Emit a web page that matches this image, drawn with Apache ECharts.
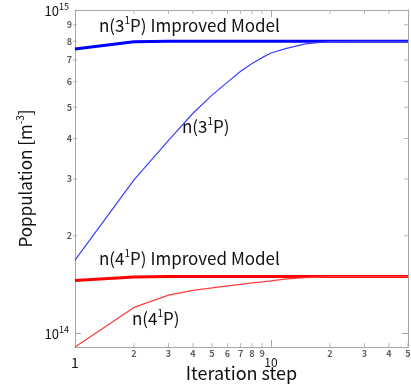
<!DOCTYPE html>
<html>
<head>
<meta charset="utf-8">
<script src="https://cdn.jsdelivr.net/npm/echarts@6/dist/echarts.min.js"></script>
<style>
  html, body { margin: 0; padding: 0; background: #fff; }
  #chart { width: 411px; height: 387px; }
</style>
</head>
<body>
<div id="chart"></div>
<script>
// iteration steps (x) and populations [m^-3]
const steps = [1, 2, 3, 4, 5, 6, 7, 8, 9, 10, 12, 15, 20, 30, 40, 50];
const n3Improved = [7.57e14, 7.98e14, 8.0e14, 8.0e14, 8.0e14, 8.0e14, 8.0e14, 8.0e14, 8.0e14, 8.0e14, 8.0e14, 8.0e14, 8.0e14, 8.0e14, 8.0e14, 8.0e14];
const n3 = [1.68e14, 2.98e14, 3.95e14, 4.79e14, 5.45e14, 5.98e14, 6.46e14, 6.83e14, 7.12e14, 7.36e14, 7.61e14, 7.85e14, 7.99e14, 8.0e14, 8.0e14, 8.0e14];
const n4Improved = [1.455e14, 1.49e14, 1.495e14, 1.495e14, 1.495e14, 1.495e14, 1.495e14, 1.495e14, 1.495e14, 1.495e14, 1.495e14, 1.495e14, 1.495e14, 1.495e14, 1.495e14, 1.495e14];
const n4 = [9.05e13, 1.20e14, 1.31e14, 1.355e14, 1.38e14, 1.40e14, 1.415e14, 1.43e14, 1.44e14, 1.45e14, 1.47e14, 1.485e14, 1.495e14, 1.495e14, 1.495e14, 1.495e14];

// axes
const xMin = 1, xMax = 50;
const yMin = 9.05e13, yMax = 1e15;
const xMinorTicks = [2, 3, 4, 5, 6, 7, 8, 9, 20, 30, 40, 50];
const xMinorLabels = ['2', '3', '4', '5', '6', '7', '8', '9', '2', '3', '4', '5'];
const yMinorTicks = [2e14, 3e14, 4e14, 5e14, 6e14, 7e14, 8e14, 9e14];
const yMinorLabels = ['2', '3', '4', '5', '6', '7', '8', '9'];

const FONT = '"Noto Sans CJK JP", "DejaVu Sans", sans-serif';
const AXIS_GRAY = '#a6a6a6';

const chart = echarts.init(document.getElementById('chart'));

const isPow10 = v => Math.abs(Math.log10(v) - Math.round(Math.log10(v))) < 1e-6;

function pairs(ys) {
  return steps.map((s, i) => [s, ys[i]]);
}

function tickSeries(points, size, offset, label) {
  return {
    type: 'scatter',
    silent: true,
    clip: false,
    symbol: 'rect',
    symbolSize: size,
    symbolOffset: offset,
    itemStyle: { color: AXIS_GRAY },
    label: label || { show: false },
    data: points,
    z: 1
  };
}

// rich styles for "n(3^1P)" style annotations
const annRich = {
  a: { fontSize: 17, fill: '#111', fontFamily: FONT, lineHeight: 21 },
  s: { fontSize: 10, fill: '#111', fontFamily: FONT, lineHeight: 10, verticalAlign: 'top' }
};

const lineBase = { type: 'line', symbol: 'none', silent: true, z: 3 };

const option = {
  backgroundColor: '#fff',
  animation: false,
  textStyle: { fontFamily: FONT },
  grid: { left: 75, right: 3, top: 10, bottom: 40, containLabel: false, outerBoundsMode: 'none' },
  xAxis: [
    {
      type: 'log', min: xMin, max: xMax, position: 'bottom',
      name: 'Iteration step', nameLocation: 'middle', nameGap: 17, nameMoveOverlap: false,
      nameTextStyle: { fontSize: 18, color: '#111', fontFamily: FONT },
      axisLine: { lineStyle: { color: AXIS_GRAY, width: 1 } },
      axisTick: { inside: true, length: 7, lineStyle: { color: AXIS_GRAY } },
      splitLine: { show: false },
      axisLabel: {
        margin: 9,
        formatter: v => (Math.abs(v - 1) < 1e-9 ? '{one|1}' : (isPow10(v) ? '{ten|10}' : '')),
        rich: {
          one: { fontSize: 14, color: '#111', fontFamily: FONT },
          ten: { fontSize: 12, color: '#111', fontFamily: FONT }
        }
      }
    },
    {
      type: 'log', min: xMin, max: xMax, position: 'top',
      axisLine: { lineStyle: { color: AXIS_GRAY, width: 1 } },
      axisTick: { inside: true, length: 7, lineStyle: { color: AXIS_GRAY } },
      axisLabel: { show: false },
      splitLine: { show: false }
    }
  ],
  yAxis: [
    {
      type: 'log', min: yMin, max: yMax, position: 'left',
      name: '{a|Poppulation [m}{s|-3}{a|]}', nameLocation: 'middle', nameGap: 38, nameRotate: 90,
      nameMoveOverlap: false,
      nameTextStyle: {
        rich: {
          a: { fontSize: 17, color: '#111', fontFamily: FONT, lineHeight: 22 },
          s: { fontSize: 10, color: '#111', fontFamily: FONT, verticalAlign: 'top', lineHeight: 10 }
        }
      },
      axisLine: { lineStyle: { color: AXIS_GRAY, width: 1 } },
      axisTick: { inside: true, length: 6, lineStyle: { color: AXIS_GRAY } },
      splitLine: { show: false },
      axisLabel: {
        margin: 6,
        formatter: v => (isPow10(v) ? '{b|10}{s|' + Math.round(Math.log10(v)) + '}' : ''),
        rich: {
          b: { fontSize: 13, color: '#111', fontFamily: FONT, lineHeight: 16, verticalAlign: 'bottom', padding: [9, 0, 0, 0] },
          s: { fontSize: 9, color: '#111', fontFamily: FONT, lineHeight: 10, verticalAlign: 'top' }
        }
      }
    },
    {
      type: 'log', min: yMin, max: yMax, position: 'right',
      axisLine: { lineStyle: { color: AXIS_GRAY, width: 1 } },
      axisTick: { inside: true, length: 6, lineStyle: { color: AXIS_GRAY } },
      axisLabel: { show: false },
      splitLine: { show: false }
    }
  ],
  graphic: [
    { type: 'text', left: 99, top: 15, silent: true, style: { text: '{a|n(3}{s|1}{a|P) Improved Model}', rich: annRich } },
    { type: 'text', left: 182, top: 116, silent: true, style: { text: '{a|n(3}{s|1}{a|P)}', rich: annRich } },
    { type: 'text', left: 99, top: 248, silent: true, style: { text: '{a|n(4}{s|1}{a|P) Improved Model}', rich: annRich } },
    { type: 'text', left: 132, top: 308, silent: true, style: { text: '{a|n(4}{s|1}{a|P)}', rich: annRich } }
  ],
  series: [
    // minor ticks + labels, bottom
    tickSeries(
      xMinorTicks.map((v, i) => ({ value: [v, yMin], label: { formatter: xMinorLabels[i] } })),
      [1, 4], [0, -2],
      { show: true, position: 'bottom', distance: 2, fontSize: 9, fontWeight: 'bold', color: '#333', fontFamily: FONT }
    ),
    // minor ticks, top
    tickSeries(xMinorTicks.slice(0, -1).map(v => [v, yMax]), [1, 4], [0, 2]),
    // minor ticks + labels, left
    tickSeries(
      yMinorTicks.map((v, i) => ({ value: [xMin, v], label: { formatter: yMinorLabels[i] } })),
      [4, 1], [0, 0],
      { show: true, position: 'left', distance: 1, fontSize: 9, fontWeight: 'bold', color: '#333', fontFamily: FONT }
    ),
    // minor ticks, right
    tickSeries(yMinorTicks.map(v => [xMax, v]), [4, 1], [-2, 0]),
    Object.assign({}, lineBase, {
      name: 'n(3 1P) Improved Model', data: pairs(n3Improved),
      lineStyle: { color: '#0000ff', width: 3 }
    }),
    Object.assign({}, lineBase, {
      name: 'n(3 1P)', data: pairs(n3),
      lineStyle: { color: '#3c3cff', width: 1.2 }
    }),
    Object.assign({}, lineBase, {
      name: 'n(4 1P) Improved Model', data: pairs(n4Improved),
      lineStyle: { color: '#ff0000', width: 3 }
    }),
    Object.assign({}, lineBase, {
      name: 'n(4 1P)', data: pairs(n4),
      lineStyle: { color: '#ff3c3c', width: 1.2 }
    })
  ]
};

chart.setOption(option);
</script>
</body>
</html>
